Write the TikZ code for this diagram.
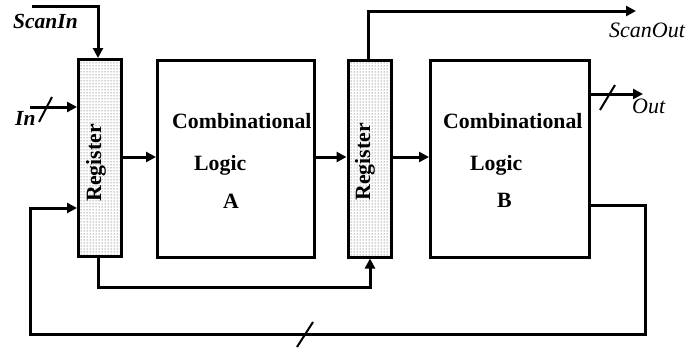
\documentclass[tikz,border=0pt]{standalone}
\usepackage{fontspec}
\setmainfont{Liberation Serif}
\usepackage{tikz}
\usetikzlibrary{positioning, calc, arrows.meta, patterns}
\tikzset{reg/.style = {rectangle, draw=black, line width=3pt, pattern=dots, pattern color=black!80, minimum width=43pt, minimum height=197pt, inner sep=0pt},
         logic/.style = {rectangle, draw=black, line width=3pt, minimum width=157pt, minimum height=197pt, inner sep=0pt},
         wire/.style = {line width=3pt, -{Triangle[length=10pt,width=10pt]}},
         txt/.style = {font=\fontsize{21.8}{26}\selectfont\bfseries, inner sep=0pt, anchor=base west}}

\begin{document}
\begin{tikzpicture}[x=1pt, y=-1pt]
            \useasboundingbox (0,0) rectangle (693,348);

            \node [reg]   (r1) at (100, 158)  {};
            \node [logic] (la) at (236, 159)  {};
            \node [reg]   (r2) at (369.5, 158.5) {};
            \node [logic, minimum width=159pt] (lb) at (510, 159) {};

            \node [txt, rotate=90, anchor=center] (t1) at (96, 163) {Register};
            \node [txt, rotate=90, anchor=center] (t2) at (365, 162) {Register};

            \node [txt] (ca) at (172, 128) {Combinational};
            \node [txt] (ga) at (194, 170) {Logic};
            \node [txt] (aa) at (223, 208) {A};
            \node [txt] (cb) at (443, 128) {Combinational};
            \node [txt] (gb) at (470, 170) {Logic};
            \node [txt] (bb) at (497, 207) {B};

            \node [txt, font=\fontsize{21.5}{25}\selectfont\bfseries\itshape] (sin) at (13, 28)  {ScanIn};
            \node [txt, font=\fontsize{21.5}{25}\selectfont\bfseries\itshape] (in)  at (15, 125) {In};
            \node [txt, font=\fontsize{22}{25}\selectfont\itshape] (sout) at (609, 37)  {ScanOut};
            \node [txt, font=\fontsize{22}{25}\selectfont\itshape] (out)  at (632, 113) {Out};

            \coordinate (s0) at (32, 6);
            \coordinate (i0) at (30, 107);
            \coordinate (so) at (636, 11);
            \coordinate (o1) at (643, 94);
            \coordinate (fb) at (645, 334);
            \coordinate (fl) at (30, 334);
            \coordinate (bt) at (98, 287);

            \draw [wire] (s0) -| (r1.north -| bt);
            \draw [wire] (i0) -- (r1.west |- i0);
            \draw [wire] (r1.east |- 0,157) -- (la.west |- 0,157);
            \draw [wire] (la.east |- 0,157) -- (r2.west |- 0,157);
            \draw [wire] (r2.east |- 0,157) -- (lb.west |- 0,157);
            \draw [wire] (r2.north -| 368,0) |- (so);
            \draw [wire] (lb.east |- o1) -- (o1);
            \draw [wire] (lb.east |- 0,205) -| (fb) -- (fl) |- (r1.west |- 0,208);
            \draw [wire] (r1.south -| bt) -- (bt) -| (r2.south -| 370,0);

            % bus marks
            \draw [line width=2pt] (39, 122) -- (52, 97);
            \draw [line width=2pt] (600, 110) -- (615, 85);
            \draw [line width=2pt] (297, 347) -- (313, 322);
        \end{tikzpicture}
\end{document}
